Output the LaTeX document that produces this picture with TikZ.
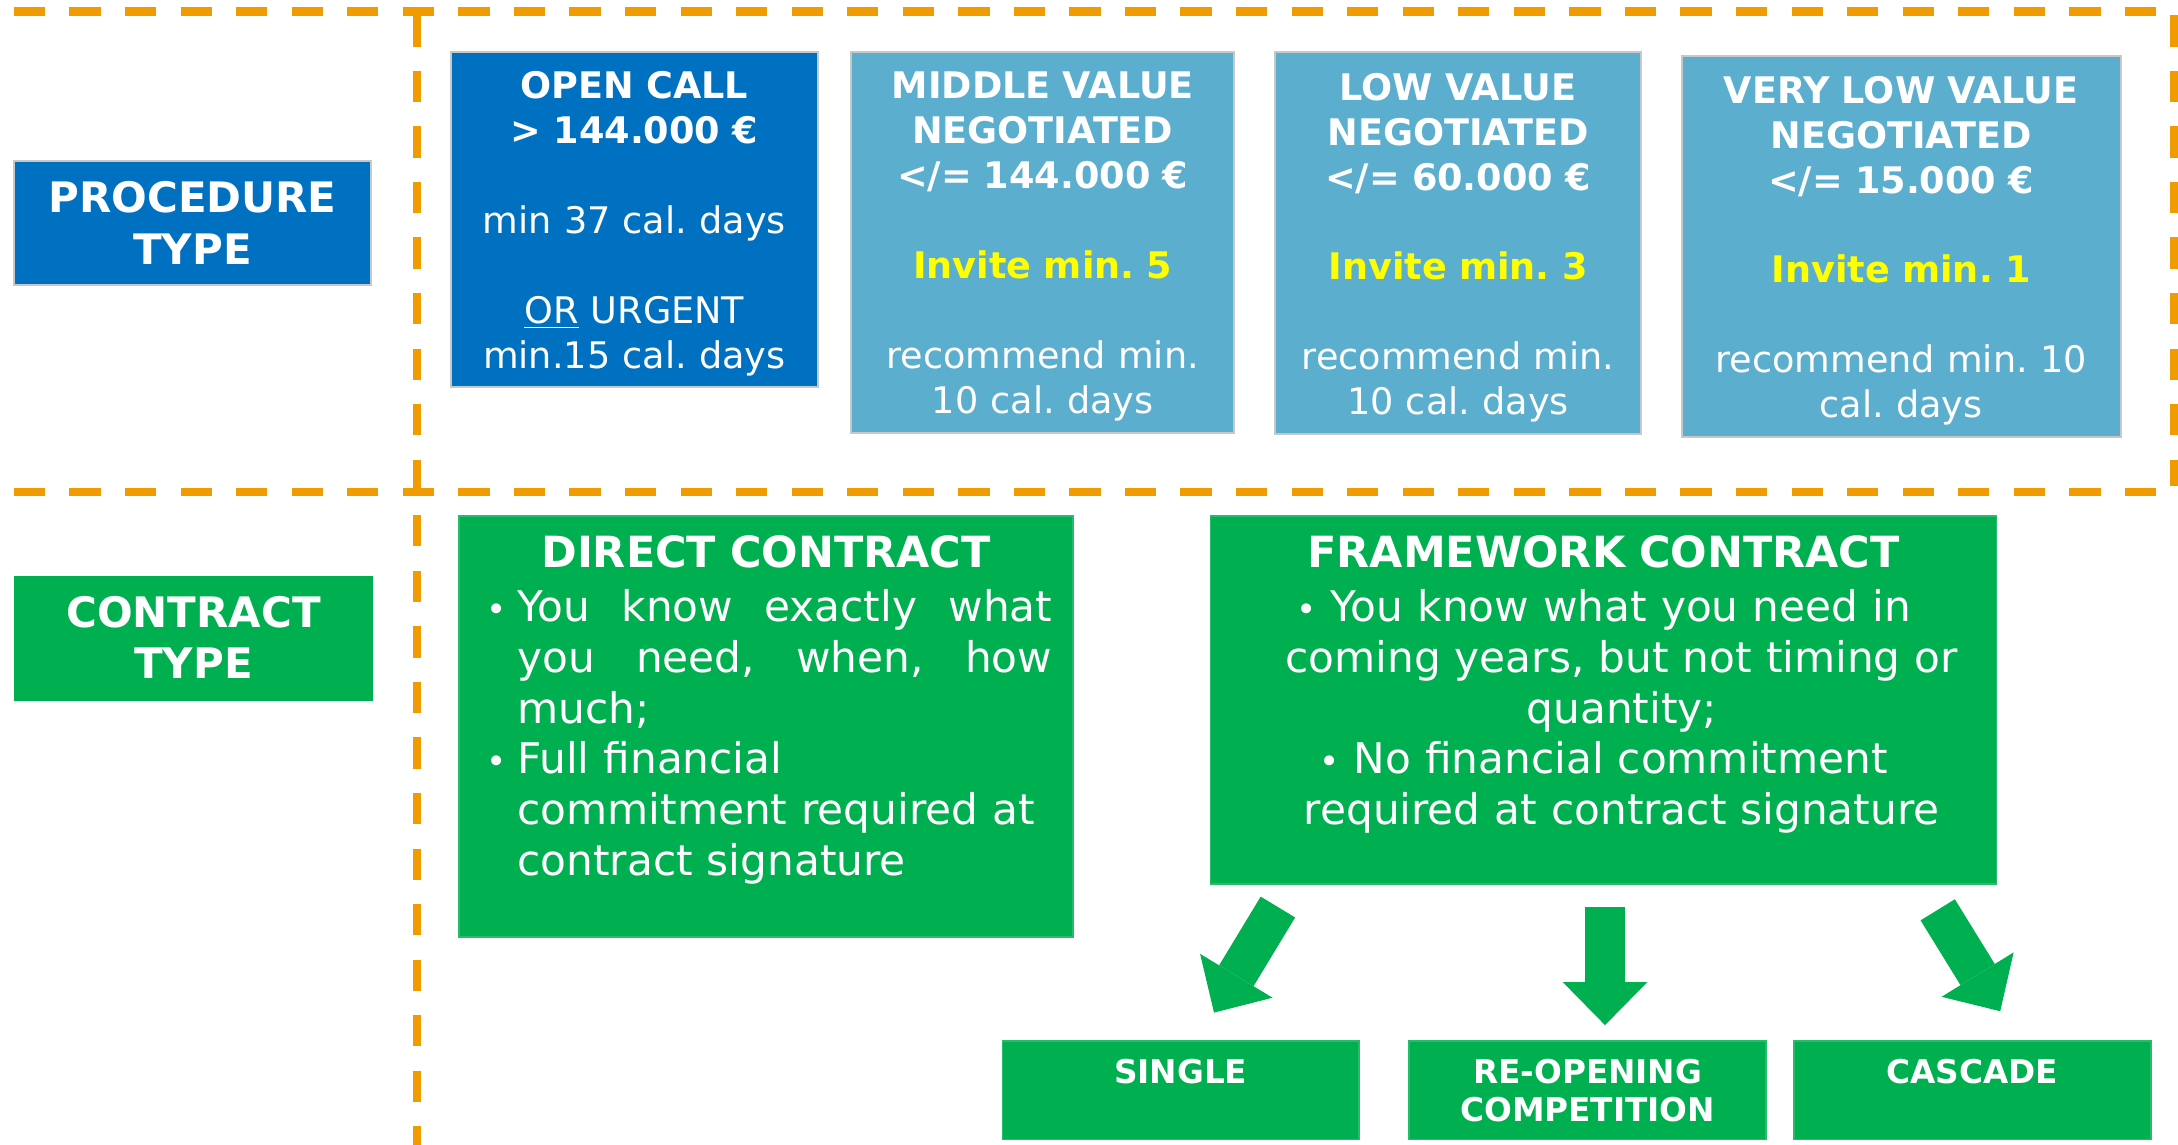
\documentclass[tikz,border=0pt]{standalone}
\usepackage{fontspec}
\setmainfont{DejaVu Sans}
\usepackage{xcolor}
\usepackage{tikz}
\usetikzlibrary{arrows.meta}
\frenchspacing

\definecolor{divorange}{RGB}{240,155,0}
\definecolor{procblue}{RGB}{0,112,192}
\definecolor{negblue}{RGB}{91,174,205}
\definecolor{contrgreen}{RGB}{0,176,80}
\definecolor{invyellow}{RGB}{255,255,0}
\definecolor{boxgray}{RGB}{200,200,200}

\tikzset{
  divider/.style={draw=divorange, line width=0.12cm, dash pattern=on 0.45cm off 0.35cm},
  headbox/.style={text=white, align=center, inner xsep=0pt, inner ysep=0pt, anchor=north west,
    font=\fontsize{17.2}{21}\selectfont\bfseries, text height=0.75cm, text depth=1.04cm},
  procbox/.style={fill=procblue, draw=boxgray, line width=0.8pt, text=white, align=center,
    inner xsep=0pt, inner ysep=0pt, anchor=north west, font=\fontsize{15}{18.4}\selectfont},
  negbox/.style={procbox, fill=negblue},
  greenbox/.style={fill=contrgreen, draw=contrgreen!85!white, line width=0.6pt, text=white,
    inner xsep=0pt, inner ysep=0pt, anchor=north west, font=\fontsize{17.3}{20.8}\selectfont},
  kindbox/.style={greenbox, align=center, font=\fontsize{13.4}{15.4}\selectfont\bfseries,
    text width=5.14cm, text height=0.612cm, text depth=0.808cm},
  blockarrow/.style={draw=contrgreen, line width=0.58cm,
    -{Triangle[width=1.22cm, length=0.62cm, line width=0pt]}}
}
\newcommand{\titlefont}{\fontsize{17.6}{20.8}\selectfont\bfseries}
\newcommand{\invite}[1]{\textcolor{invyellow}{\textbf{Invite min. #1}}}
\newcommand{\dotmark}{{\fontsize{14}{16}\selectfont •}}
\newcommand{\bulletmark}{\hspace*{0.4cm}\makebox[0.44cm][l]{\dotmark}}

\begin{document}
\begin{tikzpicture}[x=0.02cm, y=-0.02cm]
  \useasboundingbox (0,0) rectangle (1568,824);

  % Dashed dividers
  \draw[divider] (10,8.4) -- (1558,8.4);
  \draw[divider] (1565,11) -- (1565,350);
  \draw[divider] (10,354) -- (1558,354);
  \draw[divider] (300,11) -- (300,824);

  % Row headings
  \node[headbox, fill=procblue, draw=boxgray, line width=0.8pt, text width=5.13cm] (proctype)
    at (9.7,115) {PROCEDURE\\TYPE};
  \node[headbox, fill=contrgreen, text width=5.16cm, text depth=1.05cm] (contrtype)
    at (10,414) {CONTRACT\\TYPE};

  % Procedure types
  \node[procbox, text width=5.28cm, text height=0.68cm, text depth=4.15cm] (open) at (324,36.5)
    {\textbf{OPEN CALL}\\ \textbf{> 144.000 €}\\[18.4pt] min 37 cal. days\\[18.4pt]
     \underline{OR} URGENT\\ min.15 cal. days};
  \node[negbox, text width=5.52cm, text height=0.68cm, text depth=4.81cm] (middle) at (612,36.5)
    {\textbf{MIDDLE VALUE}\\ \textbf{NEGOTIATED}\\ \textbf{</= 144.000 €}\\[18.4pt]
     \invite{5}\\[18.4pt] recommend min.\\ 10 cal. days};
  \node[negbox, text width=5.28cm, text height=0.69cm, text depth=4.81cm] (low) at (917,37)
    {\textbf{LOW VALUE}\\ \textbf{NEGOTIATED}\\ \textbf{</= 60.000 €}\\[18.4pt]
     \invite{3}\\[18.4pt] recommend min.\\ 10 cal. days};
  \node[negbox, text width=6.32cm, text height=0.68cm, text depth=4.81cm] (verylow) at (1210,39.6)
    {\textbf{VERY LOW VALUE}\\ \textbf{NEGOTIATED}\\ \textbf{</= 15.000 €}\\[18.4pt]
     \invite{1}\\[18.4pt] recommend min. 10\\ cal. days};

  % Contract types
  \node[greenbox, align=left, text width=8.84cm, text height=0.74cm, text depth=5.32cm] (direct)
    at (330,371)
    {\makebox[\linewidth]{\titlefont DIRECT CONTRACT}\\[1.4pt]
     \bulletmark\hbox to 7.7cm{You\hfill know\hfill exactly\hfill what}\\
     \hspace*{0.84cm}\hbox to 7.7cm{you\hfill need,\hfill when,\hfill how}\\
     \hspace*{0.84cm}much;\\
     \bulletmark Full financial\\
     \hspace*{0.84cm}commitment required at\\
     \hspace*{0.84cm}contract signature};
  \node[greenbox, align=center, text width=11.32cm, text height=0.74cm, text depth=4.56cm] (framework)
    at (871,371)
    {{\titlefont FRAMEWORK CONTRACT}\\[1.4pt]
     \dotmark\ You know what you need in\\
     \hspace*{0.52cm}coming years, but not timing or\\
     \hspace*{0.52cm}quantity;\\
     \dotmark\ No financial commitment\\
     \hspace*{0.52cm}required at contract signature};

  % Framework variants
  \node[kindbox] (single) at (721,749) {SINGLE};
  \node[kindbox] (reopen) at (1014,749) {RE-OPENING\\COMPETITION};
  \node[kindbox] (cascade) at (1291,749) {CASCADE};

  % Block arrows
  \coordinate (singlefrom) at (920,653);
  \coordinate (singleto) at (874,729);
  \coordinate (reopenfrom) at (1155.5,653);
  \coordinate (reopento) at (1155.5,738);
  \coordinate (cascadefrom) at (1395,655);
  \coordinate (cascadeto) at (1440,728);
  \draw[blockarrow] (singlefrom) -- (singleto);
  \draw[blockarrow] (reopenfrom) -- (reopento);
  \draw[blockarrow] (cascadefrom) -- (cascadeto);
\end{tikzpicture}
\end{document}
